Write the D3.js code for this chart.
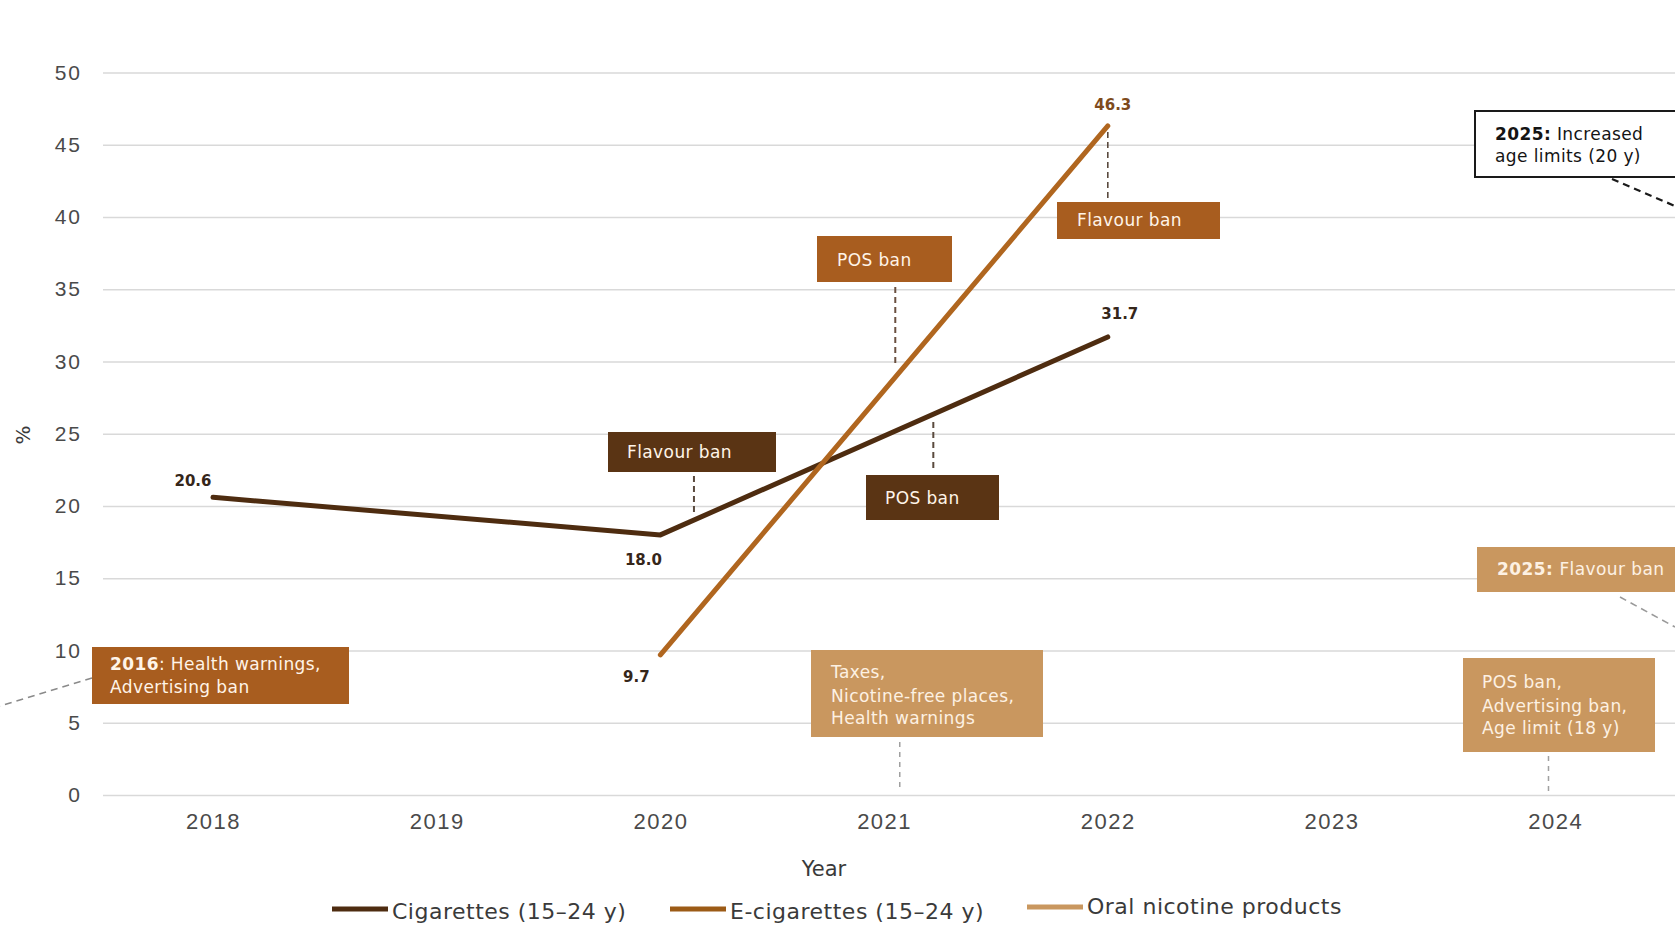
<!DOCTYPE html>
<html>
<head>
<meta charset="utf-8">
<script src="https://cdn.jsdelivr.net/npm/d3@7"></script>
<style>
  html, body { margin: 0; padding: 0; background: #ffffff; }
  svg { display: block; font-family: "DejaVu Sans", sans-serif; }
</style>
</head>
<body>
<svg id="chart" width="1675" height="926"></svg>
<script>
// ---- data ----
const years = [2018, 2019, 2020, 2021, 2022, 2023, 2024];
const yTicks = [0, 5, 10, 15, 20, 25, 30, 35, 40, 45, 50];
const cigaretteYears = [2018, 2020, 2022];
const cigaretteValues = [20.6, 18.0, 31.7];
const ecigYears = [2020, 2022];
const ecigValues = [9.7, 46.3];
const seriesNames = ["Cigarettes (15\u201324 y)", "E-cigarettes (15\u201324 y)", "Oral nicotine products"];

// policy notes: [bold prefix, regular text] per line
const notesCig = [
  [["", "Flavour ban"]],
  [["", "POS ban"]]
];
const notesEcig = [
  [["2016", ": Health warnings,"], ["", "Advertising ban"]],
  [["", "POS ban"]],
  [["", "Flavour ban"]]
];
const notesOral = [
  [["", "Taxes,"], ["", "Nicotine-free places,"], ["", "Health warnings"]],
  [["2025: ", "Flavour ban"]],
  [["", "POS ban,"], ["", "Advertising ban,"], ["", "Age limit (18 y)"]]
];
const notesGeneral = [
  [["2025:", " Increased"], ["", "age limits (20 y)"]]
];

// ---- styles ----
const C_CIG = "#5a3414";
const C_ECIG = "#a85d1f";
const C_ORAL = "#c9975f";
const C_ECIG_LINE = "#b0661f";
const C_CIG_LINE = "#4e2c10";

const svg = d3.select("#chart");

const x = d3.scaleLinear().domain([2017.5, 2024.5]).range([101.15, 1667.05]);
const y = d3.scaleLinear().domain([0, 50]).range([795, 72.5]);

// gridlines + y tick labels
const gridLeft = 103;
const yAxis = svg.append("g")
  .attr("transform", `translate(${gridLeft},0)`)
  .call(d3.axisLeft(y).tickValues(yTicks).tickSize(-(1675 - gridLeft)).tickPadding(21).tickFormat(d3.format("d")));
yAxis.select(".domain").remove();
yAxis.selectAll(".tick line").attr("stroke", "#d9d9d9").attr("stroke-width", 1.6);
yAxis.selectAll(".tick text").attr("fill", "#4a4a4a").style("font-size", "21px").style("letter-spacing", "2px");

// x tick labels
const xAxis = svg.append("g")
  .attr("transform", `translate(0,${y(0)})`)
  .call(d3.axisBottom(x).tickValues(years).tickSize(0).tickPadding(18).tickFormat(d3.format("d")));
xAxis.select(".domain").remove();
xAxis.selectAll(".tick text").attr("fill", "#4a4a4a").style("font-size", "22px").style("letter-spacing", "1.5px");

// axis titles
svg.append("text").attr("x", 824).attr("y", 876).attr("text-anchor", "middle")
  .attr("fill", "#3a3a3a").style("font-size", "21px").text("Year");
svg.append("text").attr("transform", "translate(30,435) rotate(-90)").attr("text-anchor", "middle")
  .attr("fill", "#3a3a3a").style("font-size", "20px").text("%");

// ---- connectors (dashed) ----
const conn = svg.append("g").attr("fill", "none");
function dashed(x1, y1, x2, y2, color, w, dash) {
  conn.append("line").attr("x1", x1).attr("y1", y1).attr("x2", x2).attr("y2", y2)
    .attr("stroke", color).attr("stroke-width", w).attr("stroke-dasharray", dash);
}
dashed(92, 678, 0, 706, "#8a8a8a", 1.5, "7,5");
dashed(x(2020.15), 476, x(2020.15), 512, "#5a4a3e", 2, "6,4");
dashed(x(2021.05), 287, x(2021.05), 363, "#6a5040", 2, "6,4");
dashed(x(2021.22), 422, x(2021.22), 472, "#5a4a3e", 2, "6,4");
dashed(x(2022), 132, x(2022), 200, "#5a4a3e", 1.6, "6,4");
dashed(x(2021.07), 742, x(2021.07), 790, "#a0a0a0", 1.5, "5,5");
dashed(x(2023.97), 756, x(2023.97), 792, "#a0a0a0", 1.5, "5,5");
dashed(1612, 179, 1675, 206, "#1a1a1a", 2.2, "7,5");
dashed(1620, 597, 1675, 627, "#9a9a9a", 1.6, "7,5");

// ---- series lines ----
const line = d3.line().x(d => x(d[0])).y(d => y(d[1]));
svg.append("path")
  .datum(cigaretteYears.map((yr, i) => [yr, cigaretteValues[i]]))
  .attr("d", line).attr("fill", "none").attr("stroke", C_CIG_LINE)
  .attr("stroke-width", 5).attr("stroke-linecap", "round").attr("stroke-linejoin", "round");
svg.append("path")
  .datum(ecigYears.map((yr, i) => [yr, ecigValues[i]]))
  .attr("d", line).attr("fill", "none").attr("stroke", C_ECIG_LINE)
  .attr("stroke-width", 5).attr("stroke-linecap", "round").attr("stroke-linejoin", "round");

// ---- value labels ----
const labelOffsetsCig = [[-20, -11], [-17, 30], [12, -18]];
const labelOffsetsEcig = [[-24, 27], [5, -16]];
const vl = svg.append("g").style("font-size", "15px").style("font-weight", "bold").attr("text-anchor", "middle");
cigaretteYears.forEach((yr, i) => {
  vl.append("text").attr("x", x(yr) + labelOffsetsCig[i][0]).attr("y", y(cigaretteValues[i]) + labelOffsetsCig[i][1])
    .attr("fill", "#35261a").text(cigaretteValues[i].toFixed(1));
});
ecigYears.forEach((yr, i) => {
  vl.append("text").attr("x", x(yr) + labelOffsetsEcig[i][0]).attr("y", y(ecigValues[i]) + labelOffsetsEcig[i][1])
    .attr("fill", i === 1 ? "#7e4a1c" : "#35261a").text(ecigValues[i].toFixed(1));
});

// ---- note boxes ----
function noteBox(lines, box, opts) {
  const g = svg.append("g");
  g.append("rect").attr("x", box.x0).attr("y", box.y0)
    .attr("width", box.x1 - box.x0).attr("height", box.y1 - box.y0)
    .attr("fill", opts.fill).attr("stroke", opts.stroke || "none").attr("stroke-width", opts.strokeWidth || 0);
  lines.forEach((ln, i) => {
    const t = g.append("text").attr("x", box.tx).attr("y", box.ty[i])
      .attr("fill", opts.color).style("font-size", "17px").style("letter-spacing", "0.4px");
    if (ln[0]) t.append("tspan").style("font-weight", "bold").text(ln[0]);
    t.append("tspan").text(ln[1]);
  });
}
noteBox(notesEcig[0], { x0: 92, x1: 349, y0: 647, y1: 704, tx: 110, ty: [670, 693] }, { fill: C_ECIG, color: "#fff4e8" });
noteBox(notesCig[0], { x0: 608, x1: 776, y0: 432, y1: 472, tx: 627, ty: [458] }, { fill: C_CIG, color: "#fff4e8" });
noteBox(notesEcig[1], { x0: 817, x1: 952, y0: 236, y1: 282, tx: 837, ty: [266] }, { fill: C_ECIG, color: "#fff4e8" });
noteBox(notesCig[1], { x0: 866, x1: 999, y0: 475, y1: 520, tx: 885, ty: [504] }, { fill: C_CIG, color: "#fff4e8" });
noteBox(notesEcig[2], { x0: 1057, x1: 1220, y0: 202, y1: 239, tx: 1077, ty: [226] }, { fill: C_ECIG, color: "#fff4e8" });
noteBox(notesOral[0], { x0: 811, x1: 1043, y0: 650, y1: 737, tx: 831, ty: [678, 702, 724] }, { fill: C_ORAL, color: "#fdf1e3" });
noteBox(notesOral[1], { x0: 1477, x1: 1690, y0: 547, y1: 592, tx: 1497, ty: [575] }, { fill: C_ORAL, color: "#fdf1e3" });
noteBox(notesOral[2], { x0: 1463, x1: 1655, y0: 658, y1: 752, tx: 1482, ty: [688, 712, 734] }, { fill: C_ORAL, color: "#fdf1e3" });
noteBox(notesGeneral[0], { x0: 1475, x1: 1690, y0: 111, y1: 177, tx: 1495, ty: [140, 162] }, { fill: "#ffffff", color: "#141414", stroke: "#1a1a1a", strokeWidth: 2 });

// ---- legend ----
const legendItems = [
  { name: seriesNames[0], color: C_CIG_LINE, sx: 332, sy: 909, tx: 392, ty: 919 },
  { name: seriesNames[1], color: "#9c5b16", sx: 670, sy: 909, tx: 730, ty: 919 },
  { name: seriesNames[2], color: C_ORAL, sx: 1027, sy: 907, tx: 1087, ty: 914 }
];
const lg = svg.append("g");
legendItems.forEach(d => {
  lg.append("line").attr("x1", d.sx).attr("x2", d.sx + 56).attr("y1", d.sy).attr("y2", d.sy)
    .attr("stroke", d.color).attr("stroke-width", 5);
  lg.append("text").attr("x", d.tx).attr("y", d.ty).attr("fill", "#3a3a3a")
    .style("font-size", "22px").style("letter-spacing", "0.5px").text(d.name);
});
</script>
</body>
</html>
